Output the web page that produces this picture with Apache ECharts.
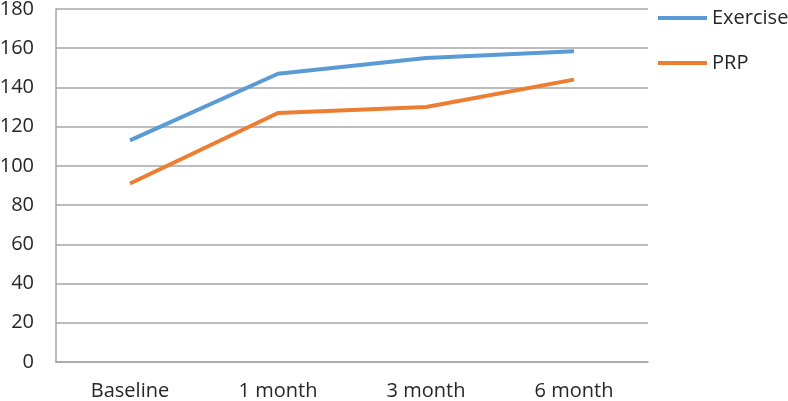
<!DOCTYPE html>
<html>
<head>
<meta charset="utf-8">
<script src="https://cdn.jsdelivr.net/npm/echarts@6/dist/echarts.min.js"></script>
<style>html,body{margin:0;padding:0;background:#fff}#c{width:788px;height:401px}</style>
</head>
<body>
<div id="c"></div>
<script>
var categories = ['Baseline', '1 month', '3 month', '6 month'];
var exercise = [113, 147, 155, 158.5];
var prp = [91, 127, 130, 144];
var seriesNames = ['Exercise', 'PRP'];

var chart = echarts.init(document.getElementById('c'), null, {renderer: 'canvas'});
var font = 'Open Sans, Noto Sans, sans-serif';
var lineIcon = 'path://M0,0 L49,0 L49,4 L0,4 Z';
chart.setOption({
  animation: false,
  grid: {left: 56, right: 140, top: 9, bottom: 39, containLabel: false, outerBoundsMode: 'none'},
  legend: {
    orient: 'vertical', left: 658, top: 8, itemGap: 25, padding: 0,
    itemWidth: 49, itemHeight: 4,
    textStyle: {fontFamily: font, fontSize: 20, color: '#262626'},
    data: [{name: seriesNames[0], icon: lineIcon}, {name: seriesNames[1], icon: lineIcon}]
  },
  xAxis: {
    type: 'category', data: categories, boundaryGap: true,
    axisLine: {show: true, lineStyle: {color: '#a6a6a6', width: 1.5}},
    axisTick: {show: false},
    axisLabel: {fontFamily: font, fontSize: 20, color: '#262626', margin: 19}
  },
  yAxis: {
    type: 'value', min: 0, max: 180, interval: 20,
    axisLine: {show: true, lineStyle: {color: '#a6a6a6', width: 1.5}},
    axisTick: {show: false},
    splitLine: {lineStyle: {color: '#a6a6a6', width: 1.5}},
    axisLabel: {fontFamily: font, fontSize: 20, color: '#262626', margin: 22}
  },
  series: [
    {name: seriesNames[0], type: 'line', data: exercise, symbol: 'none', lineStyle: {color: '#5B9BD5', width: 4}, itemStyle: {color: '#5B9BD5'}},
    {name: seriesNames[1], type: 'line', data: prp, symbol: 'none', lineStyle: {color: '#ED7D31', width: 4}, itemStyle: {color: '#ED7D31'}}
  ]
});
</script>
</body>
</html>
